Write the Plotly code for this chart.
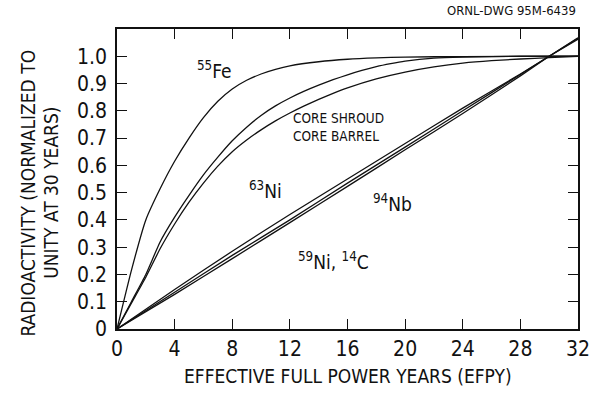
import plotly.graph_objects as go

# ---- data ----
t_fe = [0, 1, 2, 3, 4, 5, 6, 7, 8, 9, 10, 11, 12, 14, 16, 18, 20, 24, 32]
fe55 = [0, 0.215, 0.40, 0.515, 0.615, 0.70, 0.775, 0.835, 0.88, 0.912, 0.935, 0.952, 0.965, 0.98, 0.989, 0.994, 0.997, 0.999, 1.0]

t_shroud = [0, 1, 2, 3, 4, 5, 6, 7, 8, 9, 10, 11, 12, 13, 14, 15, 16, 17, 18, 19, 20, 22, 24, 28, 32]
shroud = [0, 0.10, 0.20, 0.32, 0.41, 0.49, 0.565, 0.63, 0.69, 0.74, 0.783, 0.818, 0.847, 0.872, 0.894, 0.914, 0.932, 0.948, 0.962, 0.973, 0.982, 0.993, 0.997, 1.0, 1.0]

t_barrel = [0, 1, 2, 3, 4, 5, 6, 7, 8, 9, 10, 11, 12, 13, 14, 15, 16, 18, 20, 22, 24, 26, 28, 30, 32]
barrel = [0, 0.095, 0.19, 0.295, 0.385, 0.465, 0.535, 0.597, 0.65, 0.693, 0.73, 0.763, 0.792, 0.818, 0.842, 0.864, 0.884, 0.917, 0.942, 0.961, 0.975, 0.984, 0.99, 0.995, 1.0]

t_lin = [0, 4, 8, 12, 16, 20, 24, 28, 30, 32]
ni63 = [0, 0.145, 0.285, 0.42, 0.55, 0.68, 0.81, 0.935, 1.0, 1.062]
nb94 = [0, 0.135, 0.27, 0.40, 0.535, 0.667, 0.80, 0.933, 1.0, 1.066]
ni59_c14 = [0, 0.127, 0.258, 0.39, 0.523, 0.657, 0.79, 0.928, 1.0, 1.068]

x_ticks = [0, 4, 8, 12, 16, 20, 24, 28, 32]
y_ticks = [0, 0.1, 0.2, 0.3, 0.4, 0.5, 0.6, 0.7, 0.8, 0.9, 1.0]
y_ticklabels = ["0", "0.1", "0.2", "0.3", "0.4", "0.5", "0.6", "0.7", "0.8", "0.9", "1.0"]

FONT = "Liberation Sans Narrow, DejaVu Sans Condensed, Arial Narrow, sans-serif"
INK = "#111111"

fig = go.Figure()
for xs, ys in [(t_fe, fe55), (t_shroud, shroud), (t_barrel, barrel),
               (t_lin, ni63), (t_lin, nb94), (t_lin, ni59_c14)]:
    fig.add_trace(go.Scatter(x=xs, y=ys, mode="lines",
                             line=dict(color=INK, width=1.3, shape="spline", smoothing=0.5),
                             showlegend=False, hoverinfo="skip"))

labels = [
    (6.8, 0.95, "<sup>55</sup>Fe", 19, "center"),
    (12.05, 0.74, "CORE SHROUD<br>CORE BARREL", 13.5, "left"),
    (10.3, 0.51, "<sup>63</sup>Ni", 19, "center"),
    (19.1, 0.462, "<sup>94</sup>Nb", 19, "center"),
    (15.0, 0.25, "<sup>59</sup>Ni, <sup>14</sup>C", 19, "center"),
]
for x, y, txt, size, anchor in labels:
    fig.add_annotation(x=x, y=y, text=txt, showarrow=False, xanchor=anchor, yanchor="middle",
                       align=anchor, font=dict(family=FONT, size=size, color=INK))

# axis titles / drawing number
fig.add_annotation(xref="paper", yref="paper", x=0.5, y=-0.156, text="EFFECTIVE FULL POWER YEARS (EFPY)",
                   showarrow=False, xanchor="center", yanchor="middle",
                   font=dict(family=FONT, size=19, color=INK))
fig.add_annotation(xref="paper", yref="paper", x=-0.192, y=0.453, text="RADIOACTIVITY (NORMALIZED TO",
                   showarrow=False, textangle=-90, xanchor="center", yanchor="middle",
                   font=dict(family=FONT, size=19, color=INK))
fig.add_annotation(xref="paper", yref="paper", x=-0.144, y=0.453, text="UNITY AT 30 YEARS)",
                   showarrow=False, textangle=-90, xanchor="center", yanchor="middle",
                   font=dict(family=FONT, size=19, color=INK))
fig.add_annotation(xref="paper", yref="paper", x=1.0, y=1.06, text="ORNL-DWG 95M-6439",
                   showarrow=False, xanchor="right", yanchor="middle",
                   font=dict(family=FONT, size=13, color=INK))

axis_common = dict(showgrid=False, zeroline=False, showline=True, linecolor=INK, linewidth=1.5,
                   ticks="inside", ticklen=10, tickwidth=1.3, tickcolor=INK, mirror="ticks",
                   tickfont=dict(family=FONT, size=21, color=INK))
fig.update_xaxes(range=[0, 32], tickvals=x_ticks, ticktext=[str(v) for v in x_ticks],
                 ticklabelstandoff=0, **axis_common)
fig.update_yaxes(range=[0, 1.1], tickvals=y_ticks, ticktext=y_ticklabels,
                 ticklabelstandoff=4, **axis_common)

fig.update_layout(width=602, height=397, margin=dict(l=117, r=21, t=29, b=68),
                  paper_bgcolor="white", plot_bgcolor="white",
                  font=dict(family=FONT, color=INK))

fig.write_html("out.html", config={"displayModeBar": False},
               post_script="document.body.style.margin='0';")
